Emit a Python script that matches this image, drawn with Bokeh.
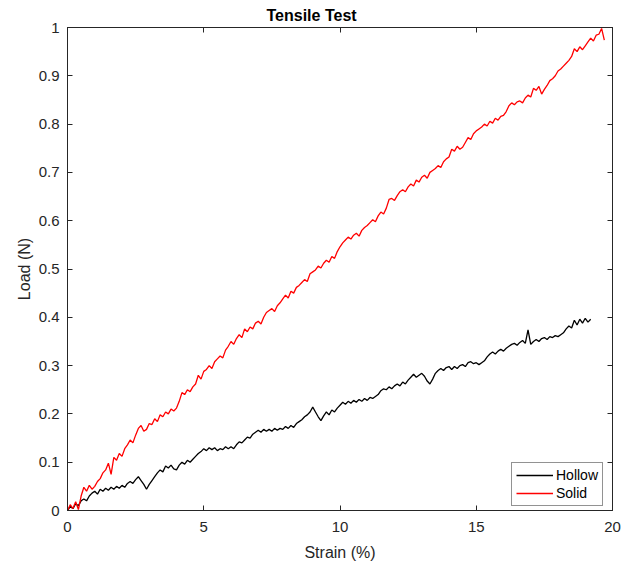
from bokeh.plotting import figure
from bokeh.models import (LinearAxis, FixedTicker, CustomJSTickFormatter, Range1d,
                          Legend, LegendItem)
from bokeh.embed import file_html
from bokeh.resources import INLINE

# ---------------- data ----------------
solid_strain = [
    0.0, 0.1, 0.2, 0.3, 0.4, 0.5, 0.6, 0.7, 0.8, 0.9,
    1.0, 1.1, 1.2, 1.3, 1.4, 1.5, 1.6, 1.7, 1.8, 1.9,
    2.0, 2.1, 2.2, 2.3, 2.4, 2.5, 2.6, 2.7, 2.8, 2.9,
    3.0, 3.1, 3.2, 3.3, 3.4, 3.5, 3.6, 3.7, 3.8, 3.9,
    4.0, 4.1, 4.2, 4.3, 4.4, 4.5, 4.6, 4.7, 4.8, 4.9,
    5.0, 5.1, 5.2, 5.3, 5.4, 5.5, 5.6, 5.7, 5.8, 5.9,
    6.0, 6.1, 6.2, 6.3, 6.4, 6.5, 6.6, 6.7, 6.8, 6.9,
    7.0, 7.1, 7.2, 7.3, 7.4, 7.5, 7.6, 7.7, 7.8, 7.9,
    8.0, 8.1, 8.2, 8.3, 8.4, 8.5, 8.6, 8.7, 8.8, 8.9,
    9.0, 9.1, 9.2, 9.3, 9.4, 9.5, 9.6, 9.7, 9.8, 9.9,
    10.0, 10.1, 10.2, 10.3, 10.4, 10.5, 10.6, 10.7, 10.8, 10.9,
    11.0, 11.1, 11.2, 11.3, 11.4, 11.5, 11.6, 11.7, 11.8, 11.9,
    12.0, 12.1, 12.2, 12.3, 12.4, 12.5, 12.6, 12.7, 12.8, 12.9,
    13.0, 13.1, 13.2, 13.3, 13.4, 13.5, 13.6, 13.7, 13.8, 13.9,
    14.0, 14.1, 14.2, 14.3, 14.4, 14.5, 14.6, 14.7, 14.8, 14.9,
    15.0, 15.1, 15.2, 15.3, 15.4, 15.5, 15.6, 15.7, 15.8, 15.9,
    16.0, 16.1, 16.2, 16.3, 16.4, 16.5, 16.6, 16.7, 16.8, 16.9,
    17.0, 17.1, 17.2, 17.3, 17.4, 17.5, 17.6, 17.7, 17.8, 17.9,
    18.0, 18.1, 18.2, 18.3, 18.4, 18.5, 18.6, 18.7, 18.8, 18.9,
    19.0, 19.1, 19.2, 19.3, 19.4, 19.5, 19.6, 19.7,
]
solid_load = [
    0.000, 0.012, 0.004, 0.018, 0.002, 0.030, 0.048, 0.040, 0.052, 0.044,
    0.050, 0.060, 0.066, 0.078, 0.084, 0.098, 0.075, 0.110, 0.104, 0.118,
    0.112, 0.128, 0.136, 0.146, 0.140, 0.156, 0.170, 0.176, 0.164, 0.168,
    0.180, 0.178, 0.190, 0.184, 0.198, 0.194, 0.204, 0.200, 0.210, 0.206,
    0.212, 0.226, 0.244, 0.240, 0.250, 0.246, 0.256, 0.262, 0.280, 0.272,
    0.288, 0.292, 0.300, 0.294, 0.308, 0.314, 0.320, 0.316, 0.332, 0.340,
    0.350, 0.344, 0.356, 0.364, 0.358, 0.376, 0.370, 0.380, 0.376, 0.388,
    0.392, 0.386, 0.400, 0.410, 0.414, 0.418, 0.412, 0.424, 0.430, 0.438,
    0.446, 0.440, 0.454, 0.450, 0.462, 0.466, 0.472, 0.478, 0.474, 0.490,
    0.494, 0.498, 0.506, 0.502, 0.512, 0.518, 0.514, 0.526, 0.522, 0.536,
    0.546, 0.554, 0.560, 0.566, 0.562, 0.570, 0.574, 0.568, 0.580, 0.586,
    0.590, 0.596, 0.602, 0.598, 0.610, 0.618, 0.614, 0.626, 0.644, 0.646,
    0.642, 0.652, 0.660, 0.664, 0.660, 0.670, 0.676, 0.672, 0.684, 0.680,
    0.690, 0.694, 0.688, 0.700, 0.704, 0.708, 0.714, 0.710, 0.722, 0.728,
    0.732, 0.748, 0.744, 0.754, 0.748, 0.752, 0.762, 0.772, 0.768, 0.780,
    0.786, 0.790, 0.794, 0.800, 0.796, 0.806, 0.802, 0.812, 0.808, 0.816,
    0.818, 0.826, 0.838, 0.844, 0.840, 0.846, 0.848, 0.844, 0.854, 0.860,
    0.856, 0.874, 0.870, 0.878, 0.862, 0.872, 0.880, 0.890, 0.894, 0.900,
    0.910, 0.914, 0.920, 0.926, 0.932, 0.940, 0.956, 0.950, 0.960, 0.954,
    0.962, 0.970, 0.978, 0.972, 0.984, 0.986, 0.998, 0.974,
]

hollow_strain = [
    0.0, 0.1, 0.2, 0.3, 0.4, 0.5, 0.6, 0.7, 0.8, 0.9,
    1.0, 1.1, 1.2, 1.3, 1.4, 1.5, 1.6, 1.7, 1.8, 1.9,
    2.0, 2.1, 2.2, 2.3, 2.4, 2.5, 2.6, 2.7, 2.8, 2.9,
    3.0, 3.1, 3.2, 3.3, 3.4, 3.5, 3.6, 3.7, 3.8, 3.9,
    4.0, 4.1, 4.2, 4.3, 4.4, 4.5, 4.6, 4.7, 4.8, 4.9,
    5.0, 5.1, 5.2, 5.3, 5.4, 5.5, 5.6, 5.7, 5.8, 5.9,
    6.0, 6.1, 6.2, 6.3, 6.4, 6.5, 6.6, 6.7, 6.8, 6.9,
    7.0, 7.1, 7.2, 7.3, 7.4, 7.5, 7.6, 7.7, 7.8, 7.9,
    8.0, 8.1, 8.2, 8.3, 8.4, 8.5, 8.6, 8.7, 8.8, 8.9,
    9.0, 9.1, 9.2, 9.3, 9.4, 9.5, 9.6, 9.7, 9.8, 9.9,
    10.0, 10.1, 10.2, 10.3, 10.4, 10.5, 10.6, 10.7, 10.8, 10.9,
    11.0, 11.1, 11.2, 11.3, 11.4, 11.5, 11.6, 11.7, 11.8, 11.9,
    12.0, 12.1, 12.2, 12.3, 12.4, 12.5, 12.6, 12.7, 12.8, 12.9,
    13.0, 13.1, 13.2, 13.3, 13.4, 13.5, 13.6, 13.7, 13.8, 13.9,
    14.0, 14.1, 14.2, 14.3, 14.4, 14.5, 14.6, 14.7, 14.8, 14.9,
    15.0, 15.1, 15.2, 15.3, 15.4, 15.5, 15.6, 15.7, 15.8, 15.9,
    16.0, 16.1, 16.2, 16.3, 16.4, 16.5, 16.6, 16.7, 16.8, 16.9,
    17.0, 17.1, 17.2, 17.3, 17.4, 17.5, 17.6, 17.7, 17.8, 17.9,
    18.0, 18.1, 18.2, 18.3, 18.4, 18.5, 18.6, 18.7, 18.8, 18.9,
    19.0, 19.1, 19.2,
]
hollow_load = [
    0.000, 0.008, 0.004, 0.014, 0.010, 0.020, 0.024, 0.020, 0.030, 0.036,
    0.040, 0.034, 0.044, 0.040, 0.046, 0.042, 0.048, 0.044, 0.050, 0.046,
    0.052, 0.048, 0.056, 0.060, 0.056, 0.064, 0.070, 0.062, 0.054, 0.044,
    0.054, 0.062, 0.070, 0.078, 0.084, 0.080, 0.092, 0.088, 0.094, 0.086,
    0.084, 0.094, 0.100, 0.096, 0.104, 0.100, 0.106, 0.112, 0.118, 0.122,
    0.128, 0.124, 0.130, 0.126, 0.130, 0.124, 0.128, 0.126, 0.132, 0.128,
    0.132, 0.128, 0.136, 0.142, 0.140, 0.146, 0.152, 0.150, 0.158, 0.162,
    0.166, 0.162, 0.168, 0.164, 0.168, 0.164, 0.170, 0.166, 0.170, 0.168,
    0.174, 0.170, 0.176, 0.172, 0.180, 0.184, 0.188, 0.194, 0.198, 0.204,
    0.214, 0.204, 0.194, 0.186, 0.196, 0.204, 0.198, 0.208, 0.204, 0.212,
    0.218, 0.224, 0.220, 0.226, 0.222, 0.228, 0.224, 0.230, 0.226, 0.232,
    0.228, 0.234, 0.232, 0.236, 0.240, 0.248, 0.252, 0.250, 0.256, 0.252,
    0.258, 0.262, 0.258, 0.266, 0.262, 0.270, 0.276, 0.282, 0.276, 0.280,
    0.284, 0.278, 0.268, 0.262, 0.272, 0.284, 0.290, 0.294, 0.290, 0.296,
    0.298, 0.292, 0.298, 0.294, 0.300, 0.302, 0.298, 0.306, 0.308, 0.304,
    0.306, 0.302, 0.306, 0.310, 0.318, 0.324, 0.328, 0.324, 0.330, 0.334,
    0.330, 0.336, 0.340, 0.344, 0.346, 0.342, 0.348, 0.352, 0.346, 0.374,
    0.344, 0.350, 0.354, 0.350, 0.356, 0.358, 0.354, 0.360, 0.358, 0.362,
    0.360, 0.364, 0.368, 0.376, 0.382, 0.378, 0.394, 0.384, 0.396, 0.388,
    0.398, 0.390, 0.396,
]

x_ticks = [0, 5, 10, 15, 20]
y_ticks = [0, 0.1, 0.2, 0.3, 0.4, 0.5, 0.6, 0.7, 0.8, 0.9, 1.0]

# ---------------- figure ----------------
AX = "#262626"
FONT = "Liberation Sans"

p = figure(width=624, height=571, output_backend="svg", toolbar_location=None,
           x_range=Range1d(0, 20), y_range=Range1d(0, 1),
           min_border_left=67, min_border_right=12, min_border_top=27,
           min_border_bottom=61, title="Tensile Test")
p.title.align = "left"
p.title.offset = 199
p.title.text_font = FONT
p.title.text_font_size = "16px"
p.title.text_font_style = "bold"
p.title.text_color = "#000000"
p.title.standoff = 8

p.xgrid.visible = False
p.ygrid.visible = False
p.outline_line_color = AX
p.outline_line_width = 1
p.background_fill_color = "white"
p.border_fill_color = "white"

fmt = CustomJSTickFormatter(code="return String(Math.round(tick*10)/10);")
blank = CustomJSTickFormatter(code="return '';")

for ax in p.xaxis:
    ax.ticker = FixedTicker(ticks=x_ticks)
for ax in p.yaxis:
    ax.ticker = FixedTicker(ticks=y_ticks)
    ax.formatter = fmt

for ax in list(p.xaxis) + list(p.yaxis):
    ax.axis_line_color = AX
    ax.major_tick_line_color = AX
    ax.major_tick_in = 5
    ax.major_tick_out = 0
    ax.minor_tick_line_color = None
    ax.major_label_text_font = FONT
    ax.major_label_text_font_size = "15px"
    ax.major_label_text_color = AX
    ax.axis_label_text_font = FONT
    ax.axis_label_text_font_size = "16px"
    ax.axis_label_text_font_style = "normal"
    ax.axis_label_text_color = AX

p.xaxis.axis_label = "Strain (%)"
p.yaxis.axis_label = "Load (N)"
p.xaxis.major_label_standoff = 11
p.xaxis.axis_label_standoff = 9
p.yaxis.major_label_standoff = 8
p.yaxis.axis_label_standoff = 3

# mirrored ticks on top and right (no labels)
top = LinearAxis(ticker=FixedTicker(ticks=x_ticks), formatter=blank,
                 axis_line_color=AX, major_tick_line_color=AX, major_tick_in=5,
                 major_tick_out=0, minor_tick_line_color=None, major_label_standoff=0)
right = LinearAxis(ticker=FixedTicker(ticks=y_ticks), formatter=blank,
                   axis_line_color=AX, major_tick_line_color=AX, major_tick_in=5,
                   major_tick_out=0, minor_tick_line_color=None, major_label_standoff=0)
p.add_layout(top, "above")
p.add_layout(right, "right")

r_h = p.line(hollow_strain, hollow_load, line_color="#000000", line_width=1.3)
r_s = p.line(solid_strain, solid_load, line_color="#ff0000", line_width=1.3)

legend = Legend(items=[LegendItem(label="Hollow", renderers=[r_h]),
                       LegendItem(label="Solid", renderers=[r_s])],
                location=(444, 4))
legend.label_text_font = FONT
legend.label_text_font_size = "14px"
legend.label_text_color = "#000000"
legend.glyph_width = 37
legend.glyph_height = 16
legend.label_standoff = 3
legend.label_height = 16
legend.padding = 4
legend.spacing = 2
legend.margin = 0
legend.border_line_color = AX
legend.border_line_width = 1
legend.background_fill_color = "white"
legend.background_fill_alpha = 1
p.add_layout(legend, "center")

open("out.html", "w").write(file_html(p, INLINE))
